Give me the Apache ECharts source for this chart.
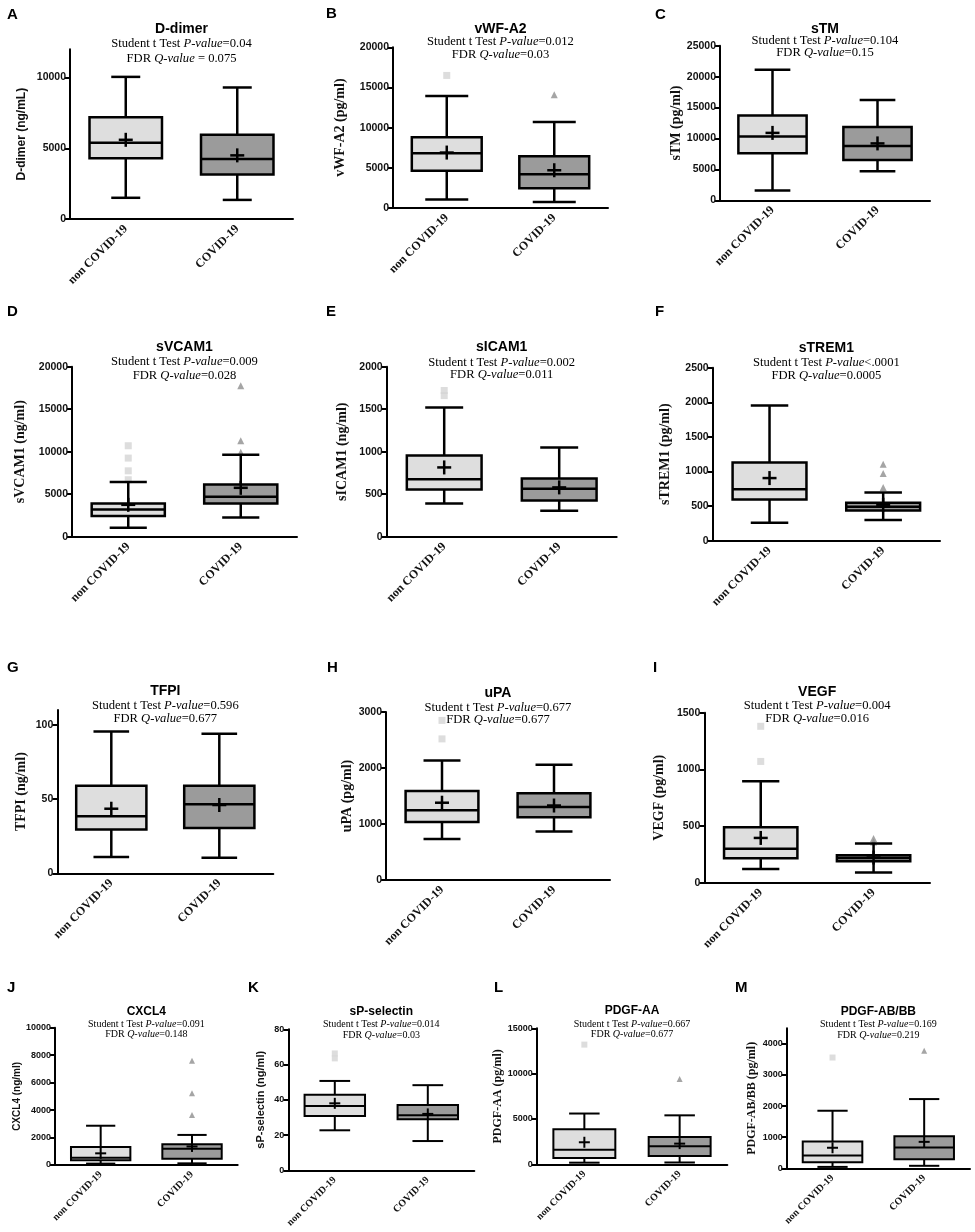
<!DOCTYPE html>
<html>
<head>
<meta charset="utf-8">
<title>Box plots</title>
<script src="https://cdn.jsdelivr.net/npm/echarts@6/dist/echarts.min.js"></script>
<style>
  html, body { margin: 0; padding: 0; background: #fff; }
  #chart { width: 975px; height: 1232px; }
</style>
</head>
<body>
<div id="chart"></div>
<script type="text/javascript">
// groups on every x axis
var groups = ['non COVID-19', 'COVID-19'];

// [low whisker, Q1, median, Q3, high whisker] for each group
var dDimerBox = [[1500, 4300, 5400, 7200, 10050], [1350, 3150, 4250, 5950, 9300]];
var dDimerMean = [5600, 4500];
var dDimerOut = [[], []];

var vwfBox = [[1050, 4650, 6800, 8800, 13950], [750, 2450, 4200, 6450, 10700]];
var vwfMean = [6900, 4700];
var vwfOut = [[16500], [14100]];

var stmBox = [[1600, 7600, 10300, 13700, 21100], [4700, 6500, 8800, 11850, 16200]];
var stmMean = [10900, 9200];
var stmOut = [[], []];

var svcamBox = [[1050, 2450, 3200, 3900, 6450], [2250, 3900, 4700, 6150, 9650]];
var svcamMean = [3750, 5750];
var svcamOut = [[6700, 7750, 9250, 10700], [9950, 11300, 17750]];

var sicamBox = [[390, 555, 675, 955, 1520], [305, 425, 565, 685, 1050]];
var sicamMean = [815, 580];
var sicamOut = [[1660, 1720], []];

var strem1Box = [[260, 595, 745, 1130, 1955], [300, 435, 490, 550, 695]];
var strem1Mean = [905, 520];
var strem1Out = [[], [770, 970, 1105]];

var tfpiBox = [[11, 29.5, 38.5, 59, 95.5], [10.5, 30.5, 46.5, 59, 94]];
var tfpiMean = [43.5, 46];
var tfpiOut = [[], []];

var upaBox = [[730, 1035, 1245, 1590, 2135], [865, 1120, 1305, 1550, 2060]];
var upaMean = [1380, 1330];
var upaOut = [[2520, 2850], []];

var vegfBox = [[120, 215, 300, 490, 895], [90, 190, 218, 242, 345]];
var vegfMean = [395, 222];
var vegfOut = [[1070, 1380], [360, 390]];

var cxcl4Box = [[100, 340, 530, 1310, 2860], [120, 460, 1190, 1510, 2190]];
var cxcl4Mean = [850, 1350];
var cxcl4Out = [[], [3650, 5220, 7600]];

var selectinBox = [[22.7, 30.8, 36.5, 42.9, 50.7], [16.6, 28.9, 31.3, 37, 48.3]];
var selectinMean = [38, 32];
var selectinOut = [[63.5, 66.3], []];

var pdgfAaBox = [[180, 700, 1600, 3860, 5600], [200, 920, 2000, 3020, 5400]];
var pdgfAaMean = [2430, 2280];
var pdgfAaOut = [[13200], [9400]];

var pdgfBbBox = [[45, 195, 410, 860, 1850], [80, 290, 665, 1030, 2225]];
var pdgfBbMean = [660, 850];
var pdgfBbOut = [[3560], [3775]];

// y tick labels
var ticksDDimer = [0, 5000, 10000];
var ticks20k = [0, 5000, 10000, 15000, 20000];
var ticks25k = [0, 5000, 10000, 15000, 20000, 25000];
var ticks2000 = [0, 500, 1000, 1500, 2000];
var ticks2500 = [0, 500, 1000, 1500, 2000, 2500];
var ticksTfpi = [0, 50, 100];
var ticks3000 = [0, 1000, 2000, 3000];
var ticks1500 = [0, 500, 1000, 1500];
var ticks10k = [0, 2000, 4000, 6000, 8000, 10000];
var ticks80 = [0, 20, 40, 60, 80];
var ticks15k = [0, 5000, 10000, 15000];
var ticks4000 = [0, 1000, 2000, 3000, 4000];

var SANS = "'Liberation Sans', Arial, sans-serif";
var SERIF = "'Liberation Serif', 'Times New Roman', serif";
var fills = ['#dedede', '#9b9b9b'];
var outColors = ['#d4d4d4', '#8e8e8e'];

// panel layout (pixel positions on the page)
var panels = [
  {L:'A', lx:7, ly:15, left:70, right:293, top:49.3, zero:219, max:12000, ticks:ticksDDimer,
   box:dDimerBox, mean:dDimerMean, out:dDimerOut, name:'D-dimer (ng/mL)', nf:SANS, ns:12, gap:42,
   title:'D-dimer', ty:[29, 44, 59], p:'=0.04', q:' = 0.075', cap:0.26},
  {L:'B', lx:326, ly:14, left:393, right:608, top:47.3, zero:208, max:20000, ticks:ticks20k,
   box:vwfBox, mean:vwfMean, out:vwfOut, name:'vWF-A2 (pg/ml)', nf:SERIF, ns:14, gap:46,
   title:'vWF-A2', ty:[29, 42, 55], p:'=0.012', q:'=0.03', cap:0.4},
  {L:'C', lx:655, ly:15, left:720, right:930, top:45.7, zero:200.3, max:25000, ticks:ticks25k,
   box:stmBox, mean:stmMean, out:stmOut, name:'sTM (pg/ml)', nf:SERIF, ns:14, gap:35,
   title:'sTM', ty:[29, 41, 53], p:'=0.104', q:'=0.15', cap:0.34},
  {L:'D', lx:7, ly:312, left:72, right:297, top:366.7, zero:536.7, max:20000, ticks:ticks20k,
   box:svcamBox, mean:svcamMean, out:svcamOut, name:'sVCAM1 (ng/ml)', nf:SERIF, ns:14, gap:45,
   title:'sVCAM1', ty:[346.7, 361.7, 375.3], p:'=0.009', q:'=0.028', cap:0.33},
  {L:'E', lx:326, ly:312, left:386.7, right:616.7, top:366.7, zero:536.7, max:2000, ticks:ticks2000,
   box:sicamBox, mean:sicamMean, out:sicamOut, name:'sICAM1 (ng/ml)', nf:SERIF, ns:14, gap:37,
   title:'sICAM1', ty:[346.7, 362.3, 375], p:'=0.002', q:'=0.011', cap:0.33},
  {L:'F', lx:655, ly:312, left:712.7, right:940, top:367.7, zero:540.7, max:2500, ticks:ticks2500,
   box:strem1Box, mean:strem1Mean, out:strem1Out, name:'sTREM1 (pg/ml)', nf:SERIF, ns:14, gap:40,
   title:'sTREM1', ty:[347.7, 362.7, 376], p:'<.0001', q:'=0.0005', cap:0.33},
  {L:'G', lx:7, ly:668, left:57.3, right:273.3, top:710, zero:873.3, max:110, ticks:ticksTfpi,
   box:tfpiBox, mean:tfpiMean, out:tfpiOut, name:'TFPI (ng/ml)', nf:SERIF, ns:14, gap:29,
   title:'TFPI', ty:[691, 706, 718.7], p:'=0.596', q:'=0.677', cap:0.33},
  {L:'H', lx:327, ly:668, left:386, right:610, top:712, zero:880, max:3000, ticks:ticks3000,
   box:upaBox, mean:upaMean, out:upaOut, name:'uPA (pg/ml)', nf:SERIF, ns:14, gap:31,
   title:'uPA', ty:[693.3, 707.3, 720], p:'=0.677', q:'=0.677', cap:0.33},
  {L:'I', lx:653, ly:668, left:704.3, right:930, top:712.7, zero:882.7, max:1500, ticks:ticks1500,
   box:vegfBox, mean:vegfMean, out:vegfOut, name:'VEGF (pg/ml)', nf:SERIF, ns:14, gap:38,
   title:'VEGF', ty:[691.7, 705.7, 718.3], p:'=0.004', q:'=0.016', cap:0.33},
  {L:'J', lx:7, ly:988, left:55, right:237.7, top:1027.7, zero:1165, max:10000, ticks:ticks10k,
   box:cxcl4Box, mean:cxcl4Mean, out:cxcl4Out, name:'CXCL4 (ng/ml)', nf:SANS, ns:10, gap:32,
   title:'CXCL4', ty:[1011.7, 1024.3, 1034.3], p:'=0.091', q:'=0.148', cap:0.32, small:true},
  {L:'K', lx:248, ly:988, left:288.3, right:474.3, top:1029.3, zero:1170.3, max:80, ticks:ticks80,
   box:selectinBox, mean:selectinMean, out:selectinOut, name:'sP-selectin (ng/ml)', nf:SANS, ns:11, gap:21.5,
   title:'sP-selectin', ty:[1011.7, 1024.3, 1035], p:'=0.014', q:'=0.03', cap:0.33, small:true},
  {L:'L', lx:494, ly:988, left:536.7, right:727.3, top:1028.3, zero:1164.3, max:15000, ticks:ticks15k,
   box:pdgfAaBox, mean:pdgfAaMean, out:pdgfAaOut, name:'PDGF-AA (pg/ml)', nf:SERIF, ns:12, gap:24,
   title:'PDGF-AA', ty:[1011, 1024, 1034.3], p:'=0.667', q:'=0.677', cap:0.32, small:true},
  {L:'M', lx:735, ly:988, left:786.7, right:970, top:1028.3, zero:1168.3, max:4500, ticks:ticks4000,
   box:pdgfBbBox, mean:pdgfBbMean, out:pdgfBbOut, name:'PDGF-AB/BB (pg/ml)', nf:SERIF, ns:12, gap:29,
   title:'PDGF-AB/BB', ty:[1011.7, 1024.3, 1035], p:'=0.169', q:'=0.219', cap:0.33, small:true}
];

function makeRender(pn) {
  var lw = pn.small ? 2 : 2.5;
  var plus = pn.small ? 11 : 14;
  return function (params, api) {
    var g = api.value(0);
    var band = api.size([1, 0])[0];
    var cx = api.coord([g, 0])[0];
    var y = [];
    for (var k = 1; k <= 6; k++) y.push(api.coord([g, api.value(k)])[1]);
    var bw = band * 0.65, cw = band * pn.cap;
    var st = {stroke: '#000', lineWidth: lw};
    return {
      type: 'group',
      children: [
        {type: 'line', shape: {x1: cx, y1: y[0], x2: cx, y2: y[4]}, style: st},
        {type: 'line', shape: {x1: cx - cw / 2, y1: y[0], x2: cx + cw / 2, y2: y[0]}, style: st},
        {type: 'line', shape: {x1: cx - cw / 2, y1: y[4], x2: cx + cw / 2, y2: y[4]}, style: st},
        {type: 'rect', shape: {x: cx - bw / 2, y: y[3], width: bw, height: y[1] - y[3]},
         style: {fill: fills[g], stroke: '#000', lineWidth: lw}},
        {type: 'line', shape: {x1: cx - bw / 2, y1: y[2], x2: cx + bw / 2, y2: y[2]}, style: st},
        {type: 'line', shape: {x1: cx - plus / 2, y1: y[5], x2: cx + plus / 2, y2: y[5]}, style: st},
        {type: 'line', shape: {x1: cx, y1: y[5] - plus / 2, x2: cx, y2: y[5] + plus / 2}, style: st}
      ]
    };
  };
}

var grid = [], xAxis = [], yAxis = [], series = [], graphic = [];

panels.forEach(function (pn, i) {
  var small = !!pn.small;
  grid.push({left: pn.left, top: pn.top, width: pn.right - pn.left, height: pn.zero - pn.top, containLabel: false});
  xAxis.push({
    gridIndex: i, type: 'category', data: groups,
    axisLine: {lineStyle: {color: '#000', width: 2}},
    axisTick: {alignWithLabel: true, length: 5, lineStyle: {color: '#000', width: 2}},
    axisLabel: {rotate: 45, interval: 0, margin: 8, color: '#111',
      fontFamily: SERIF, fontWeight: 'bold', fontSize: small ? 10 : 12}
  });
  yAxis.push({
    gridIndex: i, type: 'value', min: 0, max: pn.max,
    splitLine: {show: false},
    axisLine: {show: true, lineStyle: {color: '#000', width: 2}},
    axisTick: {show: true, length: 5, customValues: pn.ticks, lineStyle: {color: '#000', width: 2}},
    axisLabel: {customValues: pn.ticks, margin: 4, color: '#111',
      formatter: function (v) { return String(v); },
      fontFamily: SANS, fontWeight: 'bold', fontSize: small ? 9 : 10.5},
    name: pn.name, nameLocation: 'middle', nameGap: pn.gap,
    nameTextStyle: {fontFamily: pn.nf, fontWeight: 'bold', fontSize: pn.ns, color: '#111'}
  });

  var data = [];
  for (var g = 0; g < 2; g++) {
    data.push([g].concat(pn.box[g]).concat([pn.mean[g]]));
  }
  var outData = [];
  for (var h = 0; h < 2; h++) {
    pn.out[h].forEach(function (v) {
      outData.push({value: [h, v], symbol: h ? 'triangle' : 'rect', itemStyle: {color: outColors[h]}});
    });
  }
  series.push({
    type: 'scatter', xAxisIndex: i, yAxisIndex: i, symbolSize: small ? 6 : 7,
    data: outData, silent: true, z: 2
  });
  series.push({
    type: 'custom', xAxisIndex: i, yAxisIndex: i, renderItem: makeRender(pn),
    encode: {x: 0, y: [1, 2, 3, 4, 5, 6]}, data: data, silent: true, z: 3
  });

  var cx = (pn.left + pn.right) / 2;
  var subSize = small ? 10 : 12.6;
  var rich = {
    n: {fontFamily: SERIF, fontSize: subSize, color: '#111'},
    i: {fontFamily: SERIF, fontSize: subSize, fontStyle: 'italic', color: '#111'}
  };
  graphic.push({type: 'text', style: {text: pn.L, x: pn.lx, y: pn.ly, verticalAlign: 'middle',
    font: 'bold 15px ' + SANS, fill: '#000'}});
  graphic.push({type: 'text', style: {text: pn.title, x: cx, y: pn.ty[0], align: 'center', verticalAlign: 'middle',
    font: 'bold ' + (small ? 12 : 14) + 'px ' + SANS, fill: '#000'}});
  graphic.push({type: 'text', style: {text: '{n|Student t Test }{i|P-value}{n|' + pn.p + '}', rich: rich,
    x: cx, y: pn.ty[1], align: 'center', verticalAlign: 'middle'}});
  graphic.push({type: 'text', style: {text: '{n|FDR }{i|Q-value}{n|' + pn.q + '}', rich: rich,
    x: cx, y: pn.ty[2], align: 'center', verticalAlign: 'middle'}});
});

var chart = echarts.init(document.getElementById('chart'));
chart.setOption({
  backgroundColor: '#fff',
  animation: false,
  grid: grid,
  xAxis: xAxis,
  yAxis: yAxis,
  series: series,
  graphic: graphic
});
</script>
</body>
</html>
